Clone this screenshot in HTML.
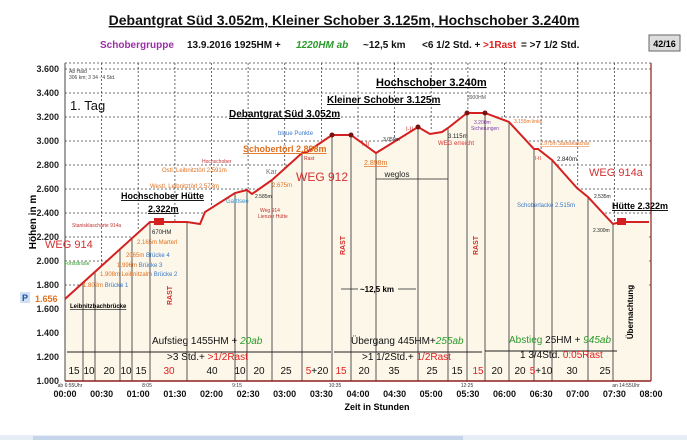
<!DOCTYPE html>
<html><head><meta charset="utf-8"><style>
body{margin:0;background:#fff;width:687px;height:440px;overflow:hidden;font-family:"Liberation Sans",sans-serif}
svg{display:block}
text{font-family:"Liberation Sans",sans-serif}
</style></head><body>
<svg width="687" height="440" viewBox="0 0 687 440">
<rect width="687" height="440" fill="#fff"/>
<text x="344" y="25" font-size="14" font-weight="bold" text-anchor="middle" text-decoration="underline" fill="#111">Debantgrat Süd 3.052m, Kleiner Schober 3.125m, Hochschober 3.240m</text>
<text x="100" y="48" font-size="10" font-weight="bold" fill="#9b2fa6">Schobergruppe</text>
<text x="187" y="48" font-size="10" font-weight="bold" fill="#111">13.9.2016   1925HM +</text>
<text x="296" y="48" font-size="10" font-weight="bold" font-style="italic" fill="#2a9a2a">1220HM ab</text>
<text x="363" y="48" font-size="10" font-weight="bold" fill="#111">~12,5 km</text>
<text x="422" y="48" font-size="10" font-weight="bold" fill="#111">&lt;6 1/2 Std. +</text>
<text x="483" y="48" font-size="10" font-weight="bold" fill="#e02020">&gt;1Rast</text>
<text x="521" y="48" font-size="10" font-weight="bold" fill="#111">= &gt;7 1/2 Std.</text>
<rect x="649" y="35" width="31" height="16" fill="#ddd" stroke="#666"/>
<text x="664.5" y="47" font-size="9" font-weight="bold" text-anchor="middle">42/16</text>

<g stroke="#444" stroke-width="0.8" stroke-dasharray="2,2">
<line x1="65" y1="63" x2="651" y2="63"/>
<line x1="65" y1="69" x2="651" y2="69"/><line x1="65" y1="93" x2="651" y2="93"/><line x1="65" y1="117" x2="651" y2="117"/><line x1="65" y1="141" x2="651" y2="141"/><line x1="65" y1="165" x2="651" y2="165"/><line x1="65" y1="189" x2="651" y2="189"/><line x1="65" y1="213" x2="651" y2="213"/><line x1="65" y1="237" x2="651" y2="237"/><line x1="65" y1="261" x2="651" y2="261"/><line x1="65" y1="285" x2="651" y2="285"/>
<line x1="101.6" y1="63" x2="101.6" y2="300"/><line x1="138.2" y1="63" x2="138.2" y2="230"/><line x1="174.9" y1="63" x2="174.9" y2="230"/><line x1="211.5" y1="63" x2="211.5" y2="210"/><line x1="248.1" y1="63" x2="248.1" y2="190"/><line x1="284.7" y1="63" x2="284.7" y2="170"/><line x1="321.4" y1="63" x2="321.4" y2="140"/><line x1="358" y1="63" x2="358" y2="140"/><line x1="394.6" y1="63" x2="394.6" y2="140"/><line x1="431.2" y1="63" x2="431.2" y2="130"/><line x1="467.9" y1="63" x2="467.9" y2="113"/><line x1="504.5" y1="63" x2="504.5" y2="120"/><line x1="541.1" y1="63" x2="541.1" y2="150"/><line x1="577.7" y1="63" x2="577.7" y2="188"/><line x1="614.4" y1="63" x2="614.4" y2="222"/>
</g>
<polygon fill="#fcf7e8" points="65,381 65,299 150,222 187,222 200,224 205,212 235,193 247,190 252,194 272,180 302,153 307,152 332,135 351,135 376,153 418,127 430,134 442,132 448,128 467,113 485,113 509,122 534,149 538,149 552,160 577,188 588,197 613,224 620,222 649,222 649,381"/>
<g stroke="#555" stroke-width="1">
<line x1="83" y1="283" x2="83" y2="381"/><line x1="95" y1="273" x2="95" y2="381"/><line x1="120" y1="250" x2="120" y2="381"/><line x1="132" y1="239" x2="132" y2="381"/><line x1="150" y1="222" x2="150" y2="381"/><line x1="187" y1="222" x2="187" y2="381"/><line x1="235" y1="193" x2="235" y2="381"/><line x1="247" y1="190" x2="247" y2="381"/><line x1="272" y1="180" x2="272" y2="381"/><line x1="302" y1="153" x2="302" y2="381"/><line x1="332" y1="135" x2="332" y2="381"/><line x1="351" y1="135" x2="351" y2="381"/><line x1="376" y1="153" x2="376" y2="381"/><line x1="418" y1="127" x2="418" y2="381"/><line x1="448" y1="128" x2="448" y2="381"/><line x1="467" y1="113" x2="467" y2="381"/><line x1="485" y1="113" x2="485" y2="381"/><line x1="509" y1="122" x2="509" y2="381"/><line x1="534" y1="149" x2="534" y2="381"/><line x1="552" y1="160" x2="552" y2="381"/><line x1="588" y1="197" x2="588" y2="381"/><line x1="613" y1="224" x2="613" y2="381"/>
</g>
<line x1="651" y1="63" x2="651" y2="381" stroke="#8b2020" stroke-width="1.2"/>
<line x1="65" y1="63" x2="65" y2="381" stroke="#444"/>
<line x1="65" y1="381" x2="651" y2="381" stroke="#8b2020" stroke-width="1.5"/>
<polyline fill="none" stroke="#d42020" stroke-width="2" points="65,299 150,222 187,222 200,224 205,212 235,193 247,190 252,194 272,180 302,153 307,152 332,135 351,135 376,153 418,127 430,134 442,132 448,128 467,113 485,113 509,122 534,149 538,149 552,160 577,188 588,197 613,224 620,222 649,222"/>
<rect x="154" y="218" width="10" height="7" fill="#d42020"/><rect x="617" y="218" width="9" height="7" fill="#d42020"/>
<g fill="#7a1010"><circle cx="332" cy="135" r="2.5"/><circle cx="351" cy="135" r="2.5"/><circle cx="418" cy="127" r="2.5"/><circle cx="467" cy="113" r="2.5"/><circle cx="485" cy="113" r="2.5"/></g>

<g font-size="9" font-weight="bold" text-anchor="end" fill="#222">
<text x="59" y="72">3.600</text><text x="59" y="96">3.400</text><text x="59" y="120">3.200</text><text x="59" y="144">3.000</text><text x="59" y="168">2.800</text><text x="59" y="192">2.600</text><text x="59" y="216">2.400</text><text x="59" y="240">2.200</text><text x="59" y="264">2.000</text><text x="59" y="288">1.800</text><text x="59" y="312">1.600</text><text x="59" y="336">1.400</text><text x="59" y="360">1.200</text><text x="59" y="384">1.000</text>
</g>
<text transform="translate(36,222) rotate(-90)" font-size="10" font-weight="bold" text-anchor="middle">Höhen in m</text>
<rect x="20" y="292" width="10" height="11" fill="#cfe0f5"/><text x="22" y="301" font-size="9" font-weight="bold" fill="#1a4fa0">P</text>
<text x="35" y="302" font-size="9" font-weight="bold" fill="#e07020">1.656</text>

<text x="69" y="73" font-size="5" fill="#444">Ab Hald</text><text x="69" y="79" font-size="5" fill="#444">306 km; 3 34 - 4 Std.</text>
<text x="70" y="110" font-size="13" fill="#111">1. Tag</text>
<text x="376" y="86" font-size="11" font-weight="bold" text-decoration="underline">Hochschober 3.240m</text>
<text x="327" y="103" font-size="10" font-weight="bold" text-decoration="underline">Kleiner Schober 3.125m</text>
<text x="229" y="117" font-size="10" font-weight="bold" text-decoration="underline">Debantgrat  Süd  3.052m</text>
<text x="467" y="99" font-size="5" fill="#555">3900HM</text>
<text x="278" y="135" font-size="6" fill="#3a78c8">blaue Punkte</text>
<text x="243" y="152" font-size="9" font-weight="bold" fill="#e07020" text-decoration="underline">Schobertörl 2.898m</text>
<text x="304" y="160" font-size="5" fill="#c03030">Rast</text>
<text x="202" y="163" font-size="5" fill="#c03030">Hochschober</text>
<text x="162" y="172" font-size="6" fill="#e07020">Ostl. Leibnitztörl 2.591m</text>
<text x="266" y="174" font-size="7" fill="#777">Kar</text>
<text x="296" y="181" font-size="12" fill="#d43030">WEG 912</text>
<text x="150" y="188" font-size="6" fill="#e07020">Westl. Leibnitztörl 2.573m</text>
<text x="272" y="187" font-size="6" fill="#e07020">2.675m</text>
<text x="255" y="198" font-size="5" fill="#222">2.585m</text>
<text x="226" y="203" font-size="6" fill="#3a90d0">Gartlsee</text>
<text x="260" y="212" font-size="5" fill="#c03030">Weg 914</text><text x="258" y="218" font-size="5" fill="#c03030">Lienzer Hütte</text>
<text x="121" y="199" font-size="9" font-weight="bold" text-decoration="underline">Hochschober  Hütte</text>
<text x="148" y="212" font-size="9" font-weight="bold" text-decoration="underline">2.322m</text>
<text x="72" y="227" font-size="5" fill="#c03030">Stanisklascharte 914a</text>
<text x="152" y="234" font-size="6" fill="#222">670HM</text>
<text x="45" y="248" font-size="11" fill="#d43030">WEG 914</text>
<text x="137" y="244" font-size="6" fill="#e07020">2.165m Marterl</text>
<text x="126" y="257" font-size="6" fill="#e07020">2065m <tspan fill="#3a78c8">Brücke 4</tspan></text>
<text x="117" y="267" font-size="6" fill="#e07020">1.996m <tspan fill="#3a78c8">Brücke 3</tspan></text>
<text x="64" y="265" font-size="5" fill="#2a9a2a">Forststraße</text>
<text x="100" y="276" font-size="6" fill="#e07020">1.908m Leibnitzalm <tspan fill="#3a78c8">Brücke 2</tspan></text>
<text x="83" y="287" font-size="6" fill="#e07020">1.802m <tspan fill="#3a78c8">Brücke 1</tspan></text>
<text x="70" y="308" font-size="6" font-weight="bold" text-decoration="underline">Leibnitzbachbrücke</text>
<text x="362" y="146" font-size="6" fill="#d43030">I-II</text>
<text x="383" y="141" font-size="5" fill="#222">3.050m</text>
<text x="406" y="131" font-size="6" fill="#d43030">I-II</text>
<text x="448" y="138" font-size="6" fill="#222">3.115m</text>
<text x="438" y="145" font-size="6" fill="#d43030">WEG erreicht</text>
<text x="364" y="165" font-size="7" fill="#e07020" text-decoration="underline">2.898m</text>
<text x="397" y="177" font-size="8" fill="#222" text-anchor="middle">weglos</text>
<line x1="376" y1="179" x2="448" y2="179" stroke="#222" stroke-width="0.8"/>
<text x="474" y="124" font-size="5" fill="#8040b0">3.200m</text><text x="471" y="130" font-size="5" fill="#8040b0">Sicherungen</text>
<text x="514" y="123" font-size="5" fill="#e07020">3.155m links</text>
<text x="540" y="145" font-size="5" fill="#e07020" text-decoration="underline">2.975m Staniskaschar</text>
<text x="535" y="160" font-size="5" fill="#d43030">I-II</text>
<text x="557" y="161" font-size="6" fill="#222">2.840m</text>
<text x="589" y="176" font-size="11" fill="#d43030">WEG 914a</text>
<text x="594" y="198" font-size="5" fill="#222">2.535m</text>
<text x="517" y="207" font-size="6" fill="#3a78c8">Schoberlacke 2.515m</text>
<text x="612" y="209" font-size="9" font-weight="bold" text-decoration="underline">Hütte 2.322m</text>
<text x="593" y="232" font-size="5" fill="#222">2.300m</text>
<g font-size="7" font-weight="bold" fill="#d43030">
<text transform="translate(172,305) rotate(-90)">RAST</text>
<text transform="translate(345,255) rotate(-90)">RAST</text>
<text transform="translate(478,255) rotate(-90)">RAST</text>
</g>
<text transform="translate(633,312) rotate(-90)" font-size="8" font-weight="bold" text-anchor="middle">Übernachtung</text>
<text x="377" y="292" font-size="8" font-weight="bold" text-anchor="middle">~12,5 km</text>
<line x1="341" y1="289" x2="358" y2="289" stroke="#222" stroke-width="0.7"/><line x1="398" y1="289" x2="416" y2="289" stroke="#222" stroke-width="0.7"/>

<line x1="67" y1="352" x2="331" y2="352" stroke="#222"/><line x1="334" y1="352" x2="482" y2="352" stroke="#222"/><line x1="485" y1="351" x2="617" y2="351" stroke="#222"/>
<text x="152" y="344" font-size="10" fill="#111">Aufstieg 1455HM + <tspan fill="#2a9a2a" font-style="italic">20ab</tspan></text>
<text x="167" y="360" font-size="10" fill="#111">&gt;3 Std.+ <tspan fill="#e02020">&gt;1/2Rast</tspan></text>
<text x="351" y="344" font-size="10" fill="#111">Übergang 445HM+<tspan fill="#2a9a2a" font-style="italic">255ab</tspan></text>
<text x="362" y="360" font-size="10" fill="#111">&gt;1 1/2Std.+ <tspan fill="#e02020">1/2Rast</tspan></text>
<text x="509" y="343" font-size="10" fill="#2a9a2a">Abstieg <tspan fill="#111">25HM + </tspan><tspan font-style="italic">945ab</tspan></text>
<text x="520" y="358" font-size="10" fill="#111">1 3/4Std. <tspan fill="#e02020">0:05Rast</tspan></text>
<g font-size="10" fill="#111" text-anchor="middle">
<text x="74" y="374">15</text><text x="89" y="374">10</text><text x="109" y="374">20</text><text x="126" y="374">10</text><text x="141" y="374">15</text><text x="169" y="374" fill="#e02020">30</text><text x="212" y="374">40</text><text x="240" y="374">10</text><text x="259" y="374">20</text><text x="286" y="374">25</text><text x="317" y="374"><tspan fill="#e02020">5</tspan>+20</text><text x="341" y="374" fill="#e02020">15</text><text x="364" y="374">20</text><text x="394" y="374">35</text><text x="432" y="374">25</text><text x="457" y="374">15</text><text x="478" y="374" fill="#e02020">15</text><text x="497" y="374">20</text><text x="520" y="374">20</text><text x="541" y="374"><tspan fill="#e02020">5</tspan>+10</text><text x="572" y="374">30</text><text x="605" y="374">25</text>
</g>
<g font-size="5" fill="#333" text-anchor="middle">
<text x="70" y="387">ab 6:55Uhr</text><text x="147" y="387">8:05</text><text x="237" y="387">9:15</text><text x="335" y="387">10:35</text><text x="467" y="387">12:25</text><text x="626" y="387">an 14:55Uhr</text>
</g>
<g font-size="9" font-weight="bold" fill="#111" text-anchor="middle">
<text x="65" y="397">00:00</text><text x="101.6" y="397">00:30</text><text x="138.2" y="397">01:00</text><text x="174.9" y="397">01:30</text><text x="211.5" y="397">02:00</text><text x="248.1" y="397">02:30</text><text x="284.7" y="397">03:00</text><text x="321.4" y="397">03:30</text><text x="358" y="397">04:00</text><text x="394.6" y="397">04:30</text><text x="431.2" y="397">05:00</text><text x="467.9" y="397">05:30</text><text x="504.5" y="397">06:00</text><text x="541.1" y="397">06:30</text><text x="577.7" y="397">07:00</text><text x="614.4" y="397">07:30</text><text x="651" y="397">08:00</text>
</g>
<text x="377" y="410" font-size="9" font-weight="bold" text-anchor="middle">Zeit in  Stunden</text>
<rect x="0" y="435" width="687" height="5" fill="#e6edf5"/>
<rect x="33" y="436" width="430" height="4" fill="#c5d6ea"/>
</svg>
</body></html>
